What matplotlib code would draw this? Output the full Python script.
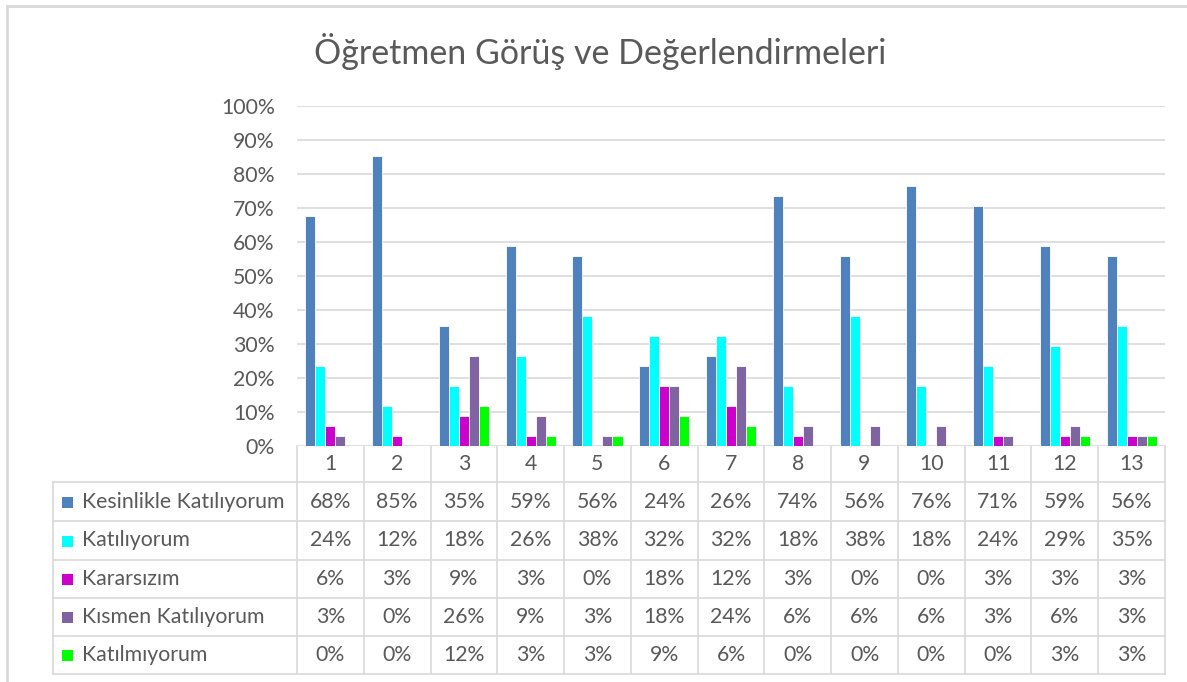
import matplotlib.pyplot as plt
import numpy as np
from matplotlib.patches import Rectangle

plt.rcParams['font.family'] = ['Lato', 'DejaVu Sans']

categories = ['1', '2', '3', '4', '5', '6', '7', '8', '9', '10', '11', '12', '13']
series_names = ['Kesinlikle Katılıyorum', 'Katılıyorum', 'Kararsızım',
                'Kısmen Katılıyorum', 'Katılmıyorum']
kesinlikle = [67.6, 85.3, 35.3, 58.8, 55.9, 23.5, 26.5, 73.5, 55.9, 76.5, 70.6, 58.8, 55.9]
katiliyorum = [23.5, 11.8, 17.6, 26.5, 38.2, 32.4, 32.4, 17.6, 38.2, 17.6, 23.5, 29.4, 35.3]
kararsizim = [5.9, 2.9, 8.8, 2.9, 0, 17.6, 11.8, 2.9, 0, 0, 2.9, 2.9, 2.9]
kismen = [2.9, 0, 26.5, 8.8, 2.9, 17.6, 23.5, 5.9, 5.9, 5.9, 2.9, 5.9, 2.9]
katilmiyorum = [0, 0, 11.8, 2.9, 2.9, 8.8, 5.9, 0, 0, 0, 0, 2.9, 2.9]
colors = ['#4F81BD', '#00FFFF', '#CC00CC', '#8064A2', '#00FF00']

series = [kesinlikle, katiliyorum, kararsizim, kismen, katilmiyorum]

W, H = 1187, 682
fig = plt.figure(figsize=(W / 100, H / 100), dpi=100)
text_color = '#595959'
line_color = '#D9D9D9'
fs = 15.3

# outer chart border
fig.patches.append(Rectangle((7 / W, -0.1), 1.2, 1 - 6 / H + 0.1, transform=fig.transFigure,
                             fill=False, edgecolor=line_color, linewidth=2))

fig.text(600 / W, 1 - 51 / H, 'Öğretmen Görüş ve Değerlendirmeleri', ha='center', va='center',
         fontsize=24.5, color=text_color)

# bar plot area
px_left, px_right, px_top, px_bottom = 297, 1165, 106, 446
ax = fig.add_axes([px_left / W, 1 - px_bottom / H, (px_right - px_left) / W, (px_bottom - px_top) / H])
x = np.arange(len(categories))
bw = 0.15
for i, (vals, c) in enumerate(zip(series, colors)):
    ax.bar(x + (i - 2) * bw, vals, bw, color=c, edgecolor='white', linewidth=0.6, zorder=3)
ax.set_xlim(-0.5, len(categories) - 0.5)
ax.set_ylim(0, 100)
ax.set_yticks(range(0, 101, 10))
ax.set_yticklabels([f'{t}%' for t in range(0, 101, 10)], fontsize=fs, color=text_color)
ax.yaxis.grid(True, color=line_color, linewidth=1.2, zorder=0)
ax.tick_params(axis='y', length=0, pad=16)
ax.set_xticks([])
for s in ax.spines.values():
    s.set_visible(False)

# data table underneath
tab = fig.add_axes([0, 0, 1, 1], zorder=-1)
tab.set_xlim(0, W)
tab.set_ylim(H, 0)
tab.axis('off')
col_w = (px_right - px_left) / len(categories)
row_tops = [446, 482, 521, 560, 598, 636, 674]
label_left = 53
lw = 1.2
# header row
for j in range(len(categories) + 1):
    xx = px_left + j * col_w
    tab.plot([xx, xx], [row_tops[0], row_tops[-1]], color=line_color, lw=lw)
for j, cat in enumerate(categories):
    tab.text(px_left + (j + 0.5) * col_w, (row_tops[0] + row_tops[1]) / 2, cat,
             ha='center', va='center', fontsize=fs, color=text_color)
# series rows
for r in range(1, len(row_tops)):
    tab.plot([label_left, px_right], [row_tops[r], row_tops[r]], color=line_color, lw=lw)
tab.plot([label_left, label_left], [row_tops[1], row_tops[-1]], color=line_color, lw=lw)
for i, (name, vals, c) in enumerate(zip(series_names, series, colors)):
    yc = (row_tops[i + 1] + row_tops[i + 2]) / 2
    tab.add_patch(Rectangle((62, yc - 5), 11, 11, facecolor=c, edgecolor='none'))
    tab.text(82, yc, name, ha='left', va='center', fontsize=fs, color=text_color)
    for j, v in enumerate(vals):
        tab.text(px_left + (j + 0.5) * col_w, yc, f'{v:.0f}%', ha='center', va='center',
                 fontsize=fs, color=text_color)

fig.savefig('out.png', dpi=100)
